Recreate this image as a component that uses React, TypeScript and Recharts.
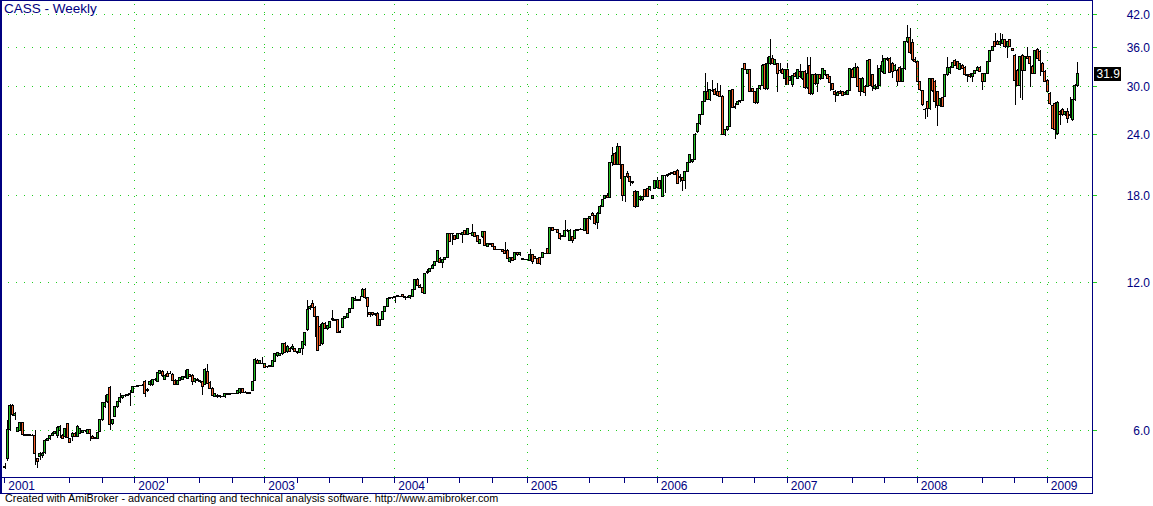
import React from 'react';
import { ComposedChart, Bar, XAxis, YAxis, CartesianGrid, ReferenceLine, Cell } from 'recharts';

const NAVY = '#000080';
const GRID = '#22cc22';
const UP = '#22c022';
const DOWN = '#f4622a';
const FONT = '"Liberation Sans", Arial, sans-serif';

const yearLabels = ['2001', '2002', '2003', '2004', '2005', '2006', '2007', '2008', '2009'];
const yearStarts = [0, 52, 104, 156, 209, 261, 313, 365, 417];
const quarterTicks = [26, 39, 65, 78, 91, 117, 130, 143, 169, 182, 195, 234, 248, 287, 300, 339, 352, 391, 404];
const yTicks = [6, 12, 18, 24, 30, 36, 42];
const lastClose = 31.9;
const title = 'CASS - Weekly';
const footer = 'Created with AmiBroker - advanced charting and technical analysis software. http://www.amibroker.com';

// weekly candles [open, high, low, close]
const w2001: number[][] = [
  [5.06,5.15,5.0,5.04],[5.25,6.3,5.2,6.02],[6.02,6.78,5.98,6.74],[6.74,6.78,6.42,6.47],[6.44,6.55,6.3,6.5],
  [5.98,6.1,5.95,6.07],[6.0,6.24,5.98,6.22],[6.22,6.24,5.86,5.89],[5.88,5.9,5.86,5.87],[5.87,5.89,5.86,5.88],
  [5.87,5.9,5.85,5.88],[5.87,5.9,5.85,5.86],[5.87,6.0,5.1,5.38],[5.25,5.28,5.03,5.18],[5.3,5.42,5.22,5.39],
  [5.34,5.42,5.28,5.39],[5.4,5.76,5.38,5.73],[5.73,5.8,5.7,5.78],[5.77,5.88,5.74,5.86],[5.86,5.95,5.83,5.92],
  [5.92,5.99,5.9,5.97],[5.87,6.12,5.8,6.08],[6.0,6.14,5.78,6.1],[5.87,5.9,5.77,5.78],[5.82,6.06,5.78,6.04],
  [6.2,6.22,5.8,5.8],[5.77,5.79,5.65,5.66],[5.82,5.94,5.7,5.92],[5.92,5.95,5.82,5.84],[5.84,6.14,5.82,6.11],
  [5.92,6.06,5.9,6.04],[5.95,6.0,5.92,5.99],[5.99,6.01,5.96,6.0],[5.92,6.03,5.9,6.02],[6.02,6.04,5.7,5.9],
  [5.84,5.86,5.76,5.78],[5.78,5.8,5.76,5.79],[5.78,5.95,5.76,5.93],[5.96,6.32,5.94,6.3],[6.3,6.86,6.28,6.84],
  [6.7,7.08,6.65,6.84],[6.86,7.12,6.82,7.1],[7.32,7.38,6.0,6.18],[6.2,6.32,6.15,6.3],[6.41,6.72,6.38,6.7],
  [6.7,6.88,6.66,6.86],[6.86,7.14,6.82,7.0],[7.0,7.08,6.96,7.05],[7.05,7.1,7.0,7.07],[7.07,7.12,7.04,7.1],
  [7.1,7.25,6.72,7.12],[7.18,7.38,7.15,7.36],
];
const w2002: number[][] = [
  [7.36,7.4,7.34,7.38],[7.38,7.42,7.36,7.4],[7.4,7.43,7.38,7.41],[7.41,7.44,7.38,7.4],[7.55,7.58,7.0,7.14],
  [7.22,7.3,7.18,7.28],[7.42,7.58,7.38,7.55],[7.42,7.62,7.4,7.6],[7.6,7.68,7.55,7.62],[7.55,7.9,7.52,7.86],
  [7.84,7.96,7.8,7.94],[7.9,7.96,7.72,7.75],[7.63,7.8,7.6,7.77],[7.82,7.94,7.7,7.71],[7.82,7.94,7.8,7.84],
  [7.8,7.85,7.55,7.57],[7.58,7.62,7.43,7.45],[7.45,7.6,7.42,7.58],[7.58,7.7,7.55,7.67],[7.62,7.74,7.6,7.71],
  [7.67,7.96,7.65,7.73],[7.64,7.98,7.62,7.96],[7.78,7.82,7.7,7.71],[7.76,7.8,7.42,7.53],[7.53,7.66,7.5,7.64],
  [7.63,7.66,7.55,7.57],[7.57,7.6,7.5,7.55],[7.53,7.56,7.08,7.38],[7.45,8.02,7.42,7.98],[7.9,8.2,7.45,7.48],
  [7.52,7.56,7.28,7.3],[7.3,7.34,7.04,7.06],[7.04,7.16,7.0,7.14],[7.02,7.1,6.98,7.07],[7.06,7.09,6.98,7.02],
  [7.02,7.05,7.0,7.03],[7.02,7.14,6.98,7.12],[7.12,7.14,7.1,7.11],[7.11,7.14,7.09,7.12],[7.12,7.14,7.1,7.13],
  [7.12,7.15,7.1,7.13],[7.13,7.26,7.1,7.24],[7.15,7.3,7.12,7.29],[7.29,7.32,7.15,7.18],[7.18,7.2,7.15,7.17],
  [7.16,7.18,7.13,7.14],[7.14,7.16,7.12,7.15],[7.22,7.57,7.2,7.55],[7.59,8.4,7.56,8.38],[8.34,8.38,8.18,8.21],
  [8.22,8.36,8.2,8.34],[8.22,8.47,8.18,8.21],
];
const w2003: number[][] = [
  [8.21,8.24,8.02,8.05],[8.08,8.12,8.04,8.09],[8.1,8.14,8.06,8.11],[8.08,8.36,8.06,8.34],[8.3,8.6,8.28,8.58],
  [8.5,8.66,8.46,8.63],[8.53,8.62,8.5,8.58],[8.58,9.05,8.55,9.02],[9.02,9.06,8.6,8.63],[8.67,8.94,8.62,8.9],
  [8.81,8.85,8.68,8.7],[8.8,8.98,8.75,8.9],[8.81,8.84,8.68,8.7],[8.67,8.7,8.58,8.64],[8.64,8.83,8.6,8.81],
  [8.81,9.1,8.52,9.08],[8.95,9.52,8.92,9.5],[9.6,11.05,9.55,10.58],[10.6,10.78,10.55,10.7],[10.88,11.05,10.65,10.68],
  [10.68,10.72,9.3,10.22],[10.22,10.25,8.68,8.72],[9.78,9.85,8.9,8.94],[9.0,9.95,8.95,9.9],[9.9,9.95,9.65,9.68],
  [9.68,9.84,9.6,9.8],[9.72,10.0,9.7,9.98],[10.14,10.54,10.0,10.06],[10.06,10.1,10.02,10.05],[10.06,10.08,9.48,9.5],
  [9.5,9.6,9.45,9.52],[9.7,10.16,9.68,10.14],[10.14,10.24,10.1,10.22],[10.19,10.4,10.15,10.38],[10.41,10.65,10.38,10.63],
  [10.63,11.22,10.6,11.19],[11.02,11.25,10.98,11.1],[11.08,11.12,10.98,11.02],[11.05,11.25,11.0,11.04],[11.21,11.66,11.18,11.61],
  [11.61,11.66,11.12,11.16],[11.16,11.2,10.22,10.71],[10.41,10.45,10.19,10.3],[10.41,10.44,10.26,10.3],[10.3,10.4,10.25,10.38],
  [10.38,10.42,9.78,9.81],[9.81,10.1,9.76,10.06],[10.09,10.5,10.05,10.48],[10.48,10.72,10.45,10.71],[10.71,11.15,10.68,11.13],
  [11.13,11.18,11.1,11.16],[11.16,11.2,11.12,11.17],
];
const w2004: number[][] = [
  [11.16,11.28,10.88,11.25],[11.25,11.3,11.22,11.26],[11.25,11.28,11.2,11.24],[11.34,11.38,11.2,11.21],[11.21,11.25,11.05,11.2],
  [11.2,11.24,11.15,11.18],[11.18,11.32,11.1,11.3],[11.21,11.64,11.18,11.61],[11.6,12.2,11.58,12.17],[12.17,12.22,11.83,11.85],
  [11.85,11.9,11.68,11.72],[11.72,11.75,11.4,11.43],[11.4,12.55,11.38,12.52],[12.55,12.8,12.5,12.62],[12.62,12.85,12.58,12.81],
  [12.81,13.05,12.78,13.01],[13.01,13.25,12.95,13.2],[13.22,13.92,13.18,13.9],[13.43,13.5,13.12,13.15],[13.15,13.4,12.81,13.35],
  [13.35,13.5,13.3,13.49],[13.49,15.12,13.45,15.09],[15.09,15.15,14.48,14.51],[15.05,15.12,14.29,15.07],[14.97,15.0,14.65,14.67],
  [14.74,15.1,14.7,15.09],[15.09,15.12,15.0,15.06],[15.02,15.18,14.41,15.14],[15.33,15.36,15.0,15.02],[15.02,15.5,14.98,15.45],
  [15.1,15.15,15.02,15.09],[14.97,15.75,14.92,15.16],[15.14,15.2,14.82,14.85],[14.97,15.0,14.48,14.51],[14.37,14.7,14.33,14.67],
  [14.85,15.28,14.8,15.26],[15.21,15.25,14.25,14.29],[14.18,14.45,14.15,14.41],[14.4,14.45,14.3,14.34],[14.41,14.45,14.2,14.22],
  [14.22,14.25,13.98,14.01],[14.01,14.05,13.95,14.0],[14.0,14.05,13.96,14.02],[14.01,14.06,13.82,13.85],[13.96,14.5,13.72,13.75],
  [13.96,14.0,13.4,13.43],[13.22,13.5,13.15,13.49],[13.49,13.52,13.25,13.28],[13.37,13.8,13.33,13.78],[13.78,13.82,13.6,13.64],
  [13.64,13.8,13.6,13.78],[13.43,13.46,13.3,13.35],[13.37,13.4,13.32,13.36],
];
const w2005: number[][] = [
  [13.36,13.4,13.3,13.38],[13.28,14.01,13.25,13.64],[13.64,13.68,13.08,13.22],[13.57,13.6,13.4,13.43],[13.43,13.46,13.1,13.12],
  [13.49,13.52,13.0,13.12],[13.47,13.8,13.42,13.78],[13.76,13.8,13.7,13.75],[14.07,14.1,13.72,13.75],[13.75,15.55,13.72,15.53],
  [15.53,15.58,15.3,15.33],[15.38,15.42,15.32,15.37],[15.38,15.42,15.1,15.14],[15.09,15.12,14.63,14.74],[14.9,15.0,14.85,14.95],
  [14.9,16.1,14.85,15.3],[15.3,15.4,15.2,15.33],[14.6,15.4,14.55,15.33],[14.86,14.9,14.4,14.63],[14.75,15.38,14.7,15.33],
  [15.33,15.42,15.28,15.4],[15.4,15.45,15.35,15.38],[15.38,15.42,15.32,15.37],[15.33,16.2,15.3,16.15],[16.15,16.2,15.1,15.12],
  [16.15,16.35,16.05,16.3],[16.6,16.65,16.35,16.4],[16.4,16.45,15.7,15.8],[15.9,16.7,15.4,16.6],[16.6,17.2,16.55,17.15],
  [17.15,17.75,17.1,17.7],[17.75,18.05,17.7,18.02],[18.02,18.2,17.82,17.87],[17.87,21.1,17.85,21.0],[21.0,22.6,20.7,21.7],
  [21.9,22.05,20.8,20.85],[20.85,23.1,20.8,22.65],[22.65,22.75,19.5,20.85],[20.85,20.9,17.6,18.0],[18.0,19.75,17.45,19.68],
  [20.0,20.2,19.6,19.68],[19.68,19.75,18.8,19.2],[19.2,19.3,19.0,19.18],[18.4,18.5,17.0,17.1],[17.1,18.4,17.05,18.35],
  [17.7,17.95,17.6,17.9],[17.7,18.0,17.6,17.95],[18.5,18.6,17.9,17.95],[18.65,18.7,17.95,17.98],[18.5,18.85,18.4,18.78],
  [17.8,18.05,17.7,18.0],[18.6,19.4,18.55,19.38],
];
const w2006: number[][] = [
  [18.7,19.7,18.65,19.35],[19.38,19.42,18.6,18.65],[17.95,19.8,17.9,19.75],[19.75,19.85,18.2,19.8],[19.8,19.95,19.7,19.9],
  [19.9,20.1,19.85,20.0],[20.0,20.15,19.9,20.05],[20.15,20.2,19.85,19.9],[20.3,20.4,19.05,19.1],[19.7,19.9,19.2,19.6],
  [19.6,19.7,18.4,19.3],[19.3,20.2,18.6,20.15],[20.15,21.05,20.1,21.0],[21.05,21.9,21.0,21.85],[21.1,21.4,21.0,21.3],
  [21.3,24.1,21.25,24.0],[24.3,25.3,24.2,25.2],[25.2,26.4,25.1,26.3],[26.4,28.0,26.35,27.95],[27.95,32.0,27.9,29.3],
  [29.3,30.6,28.2,28.2],[28.2,29.6,28.0,29.55],[29.5,31.0,29.3,29.45],[29.6,29.8,28.9,28.95],[29.3,30.5,28.8,28.85],
  [29.3,30.2,28.6,28.65],[28.65,28.8,23.9,24.0],[24.0,24.6,23.8,24.5],[24.5,25.0,24.4,24.9],[24.9,29.6,24.8,29.5],
  [29.55,29.7,27.1,27.2],[27.2,27.8,27.0,27.4],[27.6,28.0,27.5,27.95],[27.95,28.2,27.8,28.15],[28.15,32.8,28.1,32.7],
  [33.4,33.6,32.4,32.55],[31.85,32.6,31.8,32.55],[32.55,32.6,29.3,29.4],[29.7,29.8,29.3,29.35],[29.35,29.4,27.7,27.8],
  [27.8,29.8,27.7,29.7],[29.7,30.3,29.6,30.2],[30.2,33.3,30.1,33.2],[33.3,33.5,29.6,29.7],[29.7,34.5,29.6,33.4],
  [33.4,37.6,33.2,34.6],[34.2,34.8,33.4,33.45],[33.35,34.2,33.2,34.1],[33.45,33.6,29.3,31.9],[32.3,33.5,32.0,32.35],
  [32.5,32.7,31.8,31.85],[31.2,32.6,30.2,32.45],
];
const w2007: number[][] = [
  [32.45,33.45,30.2,30.25],[30.95,31.5,30.8,31.45],[30.25,31.7,30.0,31.65],[31.9,32.2,31.4,31.45],[31.2,32.5,31.1,32.45],
  [32.2,33.4,31.3,31.45],[31.2,32.3,31.0,32.2],[32.2,32.4,29.7,29.95],[29.9,34.5,29.7,31.95],[33.2,34.4,28.9,29.0],
  [29.0,31.9,28.8,31.8],[31.8,32.0,30.3,30.4],[30.4,31.8,29.3,31.7],[31.7,31.9,31.0,31.2],[31.2,32.8,31.1,32.6],
  [31.7,32.4,31.5,32.3],[31.7,31.9,31.1,31.2],[31.45,31.6,29.4,30.6],[30.4,30.5,29.5,29.6],[29.4,29.5,27.9,28.9],
  [28.85,29.4,28.7,29.2],[29.4,29.5,28.95,29.0],[29.3,29.4,28.8,28.85],[28.95,29.35,28.8,29.2],[28.95,29.6,28.9,29.5],
  [29.5,32.8,29.4,32.7],[32.5,32.8,31.2,31.3],[31.3,33.5,31.2,32.9],[32.9,33.1,29.9,30.0],[31.2,31.3,28.7,29.3],
  [29.3,31.4,29.2,31.2],[30.0,30.2,28.7,29.2],[30.0,34.0,29.9,33.9],[34.0,34.2,30.1,30.2],[31.7,31.8,29.4,30.0],
  [29.8,30.4,29.6,30.2],[29.8,33.2,29.7,30.0],[30.2,33.2,30.1,32.7],[32.2,34.8,32.0,33.7],[31.9,34.3,31.8,34.2],
  [34.2,34.5,33.9,34.0],[34.2,34.4,32.0,32.1],[33.5,33.7,31.3,32.2],[32.4,33.3,32.3,33.2],[32.4,32.6,30.1,30.7],
  [32.9,33.1,30.6,30.7],[30.7,32.8,30.6,32.7],[32.7,37.1,32.5,37.0],[37.0,40.0,36.8,37.7],[37.7,39.5,35.0,35.2],
  [36.9,37.6,33.9,34.0],[34.0,34.4,33.5,33.7],
];
const w2008: number[][] = [
  [33.7,33.9,30.6,30.7],[30.7,30.8,29.4,29.55],[29.5,29.6,27.4,27.55],[27.0,27.2,25.8,26.9],[28.0,28.1,26.0,27.1],
  [27.1,31.2,26.9,31.15],[31.2,31.3,29.2,29.5],[30.7,30.9,27.1,27.95],[29.3,29.4,24.9,27.5],[27.5,28.5,27.3,28.4],
  [28.5,28.6,27.3,27.4],[28.7,31.8,28.6,31.7],[31.7,34.4,31.6,32.9],[32.0,33.0,31.9,32.9],[32.9,33.6,32.8,33.55],
  [33.9,34.2,33.2,33.2],[33.7,33.9,32.6,32.7],[32.5,33.4,32.4,33.4],[33.2,33.4,32.6,32.7],[32.9,33.0,31.6,31.7],
  [31.7,31.9,30.7,31.65],[31.8,32.0,31.3,31.4],[31.4,32.0,30.7,31.9],[31.9,32.5,31.8,32.4],[32.4,33.0,32.3,32.9],
  [32.9,33.1,32.1,32.2],[31.85,32.0,29.5,30.7],[30.7,32.0,30.6,31.9],[31.9,33.9,31.8,33.8],[33.8,35.7,33.7,35.6],
  [35.6,36.3,35.4,36.2],[37.0,38.6,36.1,36.2],[37.0,37.3,36.4,36.5],[36.5,38.6,36.3,37.0],[36.8,38.4,36.6,37.4],
  [37.4,37.6,36.0,36.2],[36.2,37.2,34.3,37.0],[37.4,37.6,36.1,36.2],[35.8,35.9,35.4,35.6],[34.8,35.0,27.5,30.9],
  [32.4,32.6,30.1,30.2],[30.2,34.6,28.5,34.5],[34.8,35.0,28.2,32.4],[32.4,34.6,32.3,34.5],[34.6,36.2,34.1,34.2],
  [34.5,34.7,30.0,33.4],[33.0,33.2,31.8,31.9],[31.9,35.7,31.8,35.6],[35.7,35.9,34.2,34.3],[35.4,35.6,31.5,33.9],
  [33.5,33.7,32.1,32.2],[32.2,32.4,30.6,30.8],
];
const w2009: number[][] = [
  [30.95,31.1,29.2,29.3],[29.1,29.2,27.6,27.75],[27.5,27.6,24.6,24.7],[27.75,27.9,23.46,24.5],[24.1,28.1,23.9,27.9],
  [26.7,26.9,25.1,26.3],[26.9,27.1,26.2,26.3],[26.3,26.8,26.1,26.7],[26.7,27.2,25.3,25.9],[26.2,28.6,25.9,26.3],
  [25.7,28.3,25.5,28.2],[28.2,30.4,28.0,30.24],[30.24,33.7,30.0,31.9],
];

const weeks = [...w2001, ...w2002, ...w2003, ...w2004, ...w2005, ...w2006, ...w2007, ...w2008, ...w2009];
const rows = weeks.map(([o, h, l, c], k) => ({
  k, o, h, l, c,
  wick: [l, h],
  body: [Math.min(o, c), Math.max(o, c)],
}));

const X_MIN = -1.92;
const X_MAX = 434.88;
const Y_MIN = 4.822;
const Y_MAX = 45.03;
const xTicks = [...yearStarts, ...quarterTicks].sort((a, b) => a - b);

const XTick = (props: any) => {
  const { x, y, payload } = props;
  const idx = yearStarts.indexOf(payload.value);
  return (
    <g>
      <line x1={x} x2={x} y1={y} y2={y + 6} stroke={NAVY} strokeWidth={1} />
      {idx >= 0 && (
        <text x={x + 3.5} y={y + 12.5} fill={NAVY} fontSize={12} fontFamily={FONT} textAnchor="start">
          {yearLabels[idx]}
        </text>
      )}
    </g>
  );
};

const YTick = (props: any) => {
  const { x, y, payload } = props;
  return (
    <text x={x + 53} y={y + 4.3} fill={NAVY} fontSize={12} fontFamily={FONT} textAnchor="end">
      {Number(payload.value).toFixed(1)}
    </text>
  );
};

const PriceTag = (props: any) => {
  const vb = props.viewBox || {};
  const x = (vb.x || 0) + (vb.width || 0) + 2;
  const y = vb.y || 0;
  return (
    <g>
      <rect x={x} y={y - 7} width={27} height={14} fill="#000" />
      <text x={x + 2.5} y={y + 4.5} fill="#fff" fontSize={12} fontFamily={FONT}>
        {lastClose.toFixed(1)}
      </text>
    </g>
  );
};

export default function App() {
  return (
    <div
      style={{
        position: 'absolute', left: 0, top: 0, width: 1153, height: 506,
        background: '#fff', fontFamily: FONT, shapeRendering: 'crispEdges', overflow: 'hidden',
      }}
    >
      <ComposedChart width={1153} height={506} data={rows} margin={{ top: 0, right: 0, bottom: 13, left: 0 }}>
        <CartesianGrid vertical={false} stroke={GRID} strokeDasharray="1 7" />
        <XAxis
          dataKey="k" type="number" domain={[X_MIN, X_MAX]} allowDataOverflow
          ticks={xTicks} interval={0} height={16}
          tickLine={false} tickSize={0} tickMargin={0}
          axisLine={{ stroke: NAVY }} tick={(p: any) => <XTick {...p} />}
        />
        <XAxis xAxisId="b" dataKey="k" type="number" domain={[X_MIN, X_MAX]} allowDataOverflow hide />
        <YAxis
          orientation="right" type="number" scale="log" domain={[Y_MIN, Y_MAX]} allowDataOverflow
          ticks={yTicks} interval={0} width={61} tickSize={5} tickMargin={0}
          tickLine={{ stroke: GRID }} axisLine={{ stroke: NAVY }} tick={(p: any) => <YTick {...p} />}
        />
        {yearStarts.slice(1).map((k) => (
          <ReferenceLine key={k} x={k} stroke={GRID} strokeDasharray="1 7" />
        ))}
        <Bar dataKey="wick" barSize={1} fill="#000" isAnimationActive={false} />
        <Bar dataKey="body" xAxisId="b" barSize={3} stroke="#000" strokeWidth={1} isAnimationActive={false}>
          {rows.map((r) => (
            <Cell key={r.k} fill={r.c >= r.o ? UP : DOWN} />
          ))}
        </Bar>
        <ReferenceLine y={lastClose} stroke="none" label={<PriceTag />} />
      </ComposedChart>
      <div
        style={{
          position: 'absolute', left: 0, top: 0, width: 1093, height: 494, boxSizing: 'border-box',
          border: `1px solid ${NAVY}`, borderLeft: `2px solid ${NAVY}`, pointerEvents: 'none',
        }}
      />
      <div style={{ position: 'absolute', left: 4, top: 1, fontSize: 13.5, color: NAVY, whiteSpace: 'nowrap' }}>
        {title}
      </div>
      <div style={{ position: 'absolute', left: 5, top: 492, fontSize: 10.8, color: '#000', whiteSpace: 'nowrap' }}>
        {footer}
      </div>
    </div>
  );
}
